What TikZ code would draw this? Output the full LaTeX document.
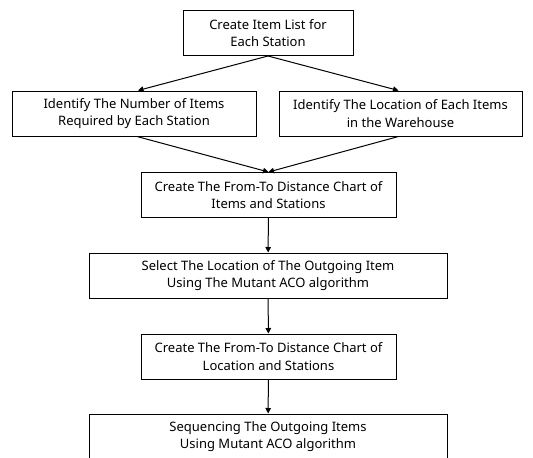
\documentclass[tikz,border=0pt]{standalone}
\usepackage{fontspec}
\setmainfont{Noto Sans}
\usepackage{tikz}
\usetikzlibrary{arrows.meta,positioning}

\begin{document}
\begin{tikzpicture}[
  x=1pt, y=-1pt,
  font=\fontsize{13}{17.5}\selectfont,
  stepbox/.style={rectangle, draw=black, line width=1pt, align=center,
                  minimum height=45pt, inner sep=2pt},
  rel/.style={-{Triangle[length=5.5pt,width=5.5pt]}, line width=1pt}
]
% page frame, last box runs past the bottom edge
\useasboundingbox (0,0) rectangle (533,458);
\clip (0,0) rectangle (533,458);

\node[stepbox, minimum width=170pt] (list) at (268,33)
      {Create Item List for\\Each Station};

\node[stepbox, minimum width=244pt] (num) at (134,113.5)
      {Identify The Number of Items\\Required by Each Station};
\node[stepbox, minimum width=243pt] (loc) at (400.5,113.5)
      {Identify The Location of Each Items\\in the Warehouse};

\node[stepbox, minimum width=255pt] (chartA) at (268.5,195)
      {Create The From-To Distance Chart of\\Items and Stations};
\node[stepbox, minimum width=358pt] (select) at (268,275.5)
      {Select The Location of The Outgoing Item\\Using The Mutant ACO algorithm};
\node[stepbox, minimum width=255pt] (chartB) at (268.5,356.5)
      {Create The From-To Distance Chart of\\Location and Stations};
\node[stepbox, minimum width=358pt] (seq) at (268,436.5)
      {Sequencing The Outgoing Items\\Using Mutant ACO algorithm};

\draw[rel] (list.south) -- ([xshift=4pt]num.north);
\draw[rel] (list.south) -- ([xshift=-2pt]loc.north);
\draw[rel] ([xshift=3pt]num.south) -- (chartA.north);
\draw[rel] ([xshift=-2pt]loc.south) -- (chartA.north);
\draw[rel] (chartA) -- (select);
\draw[rel] (select) -- (chartB);
\draw[rel] (chartB) -- (seq);

\end{tikzpicture}
\end{document}
